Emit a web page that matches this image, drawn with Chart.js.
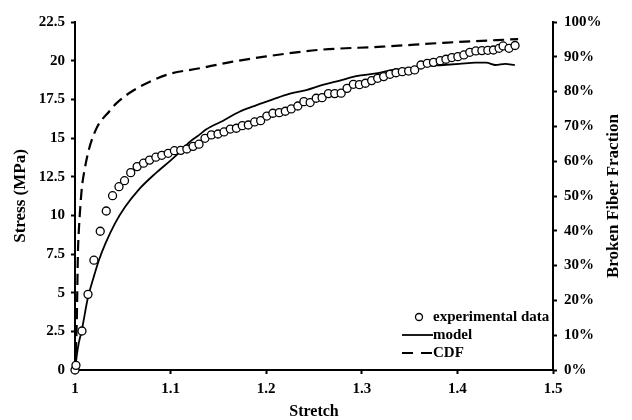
<!DOCTYPE html>
<html>
<head>
<meta charset="utf-8">
<script src="https://cdn.jsdelivr.net/npm/chart.js@4.4.1/dist/chart.umd.min.js"></script>
<style>
  body { margin: 0; background: #fff; }
  #wrap { width: 632px; height: 420px; }
</style>
</head>
<body>
<div id="wrap"><canvas id="stressChart" width="632" height="420"></canvas></div>
<script>
// Experimental data (circles)
const expStretch = [1.0, 1.001, 1.0073, 1.0136, 1.0198, 1.0264, 1.0327, 1.0393, 1.046, 1.0518,
  1.0583, 1.065, 1.0717, 1.078, 1.0846, 1.0908, 1.0975, 1.104, 1.1106, 1.117,
  1.1235, 1.1297, 1.136, 1.1427, 1.1496, 1.1559, 1.1625, 1.1688, 1.175, 1.1813,
  1.1879, 1.1942, 1.2007, 1.207, 1.2137, 1.22, 1.2262, 1.2331, 1.2394, 1.246,
  1.2523, 1.2585, 1.2651, 1.2717, 1.2784, 1.2846, 1.2912, 1.2975, 1.3038, 1.3103,
  1.3166, 1.3229, 1.3295, 1.3358, 1.3424, 1.349, 1.3553, 1.3619, 1.3685, 1.375,
  1.382, 1.388, 1.3942, 1.4005, 1.4068, 1.413, 1.4193, 1.4256, 1.4318, 1.4377,
  1.4436, 1.4478, 1.454, 1.4603];
const expStress = [0.0, 0.3, 2.52, 4.89, 7.1, 8.97, 10.28, 11.27, 11.85, 12.24,
  12.76, 13.15, 13.37, 13.57, 13.76, 13.88, 14.01, 14.18, 14.2, 14.29,
  14.46, 14.6, 14.98, 15.2, 15.26, 15.39, 15.58, 15.63, 15.8, 15.84,
  16.04, 16.12, 16.42, 16.6, 16.64, 16.73, 16.88, 17.07, 17.35, 17.29,
  17.57, 17.61, 17.87, 17.87, 17.9, 18.21, 18.47, 18.45, 18.54, 18.71,
  18.86, 18.97, 19.12, 19.22, 19.29, 19.33, 19.4, 19.72, 19.83, 19.89,
  20.0, 20.09, 20.2, 20.26, 20.37, 20.54, 20.63, 20.65, 20.67, 20.69,
  20.8, 20.95, 20.8, 20.98];

// Model curve (solid line)
const modelStretch = [1.0, 1.002, 1.004, 1.007, 1.0136, 1.0195, 1.025, 1.032, 1.042, 1.0525,
  1.0665, 1.084, 1.101, 1.113, 1.12, 1.13, 1.1374, 1.155, 1.172, 1.19,
  1.207, 1.224, 1.242, 1.259, 1.277, 1.294, 1.315, 1.332, 1.35, 1.367,
  1.385, 1.402, 1.419, 1.43, 1.44, 1.45, 1.46];
const modelStress = [0, 1.0, 1.75, 2.55, 4.7, 6.0, 7.1, 8.2, 9.5, 10.55,
  11.65, 12.7, 13.6, 14.3, 14.75, 15.2, 15.56, 16.12, 16.7, 17.13,
  17.5, 17.85, 18.1, 18.43, 18.71, 19.0, 19.18, 19.4, 19.5, 19.66,
  19.72, 19.79, 19.87, 19.87, 19.72, 19.79, 19.72];

// Broken fiber fraction CDF (dashed line, right axis, %)
const cdfStretch = [1.0, 1.001, 1.002, 1.003, 1.004, 1.0056, 1.0073, 1.01, 1.0142, 1.0226,
  1.0365, 1.0435, 1.061, 1.0957, 1.1305, 1.165, 1.2, 1.2557, 1.321, 1.39, 1.4635];
const cdfFraction = [0, 5.7, 16, 33, 40, 47, 52.7, 57.5, 63, 69.5,
  74.5, 76.7, 80.3, 84.8, 86.7, 88.6, 90.1, 92.0, 92.9, 94.1, 95.1];

const stretchTicks = [1, 1.1, 1.2, 1.3, 1.4, 1.5];
const stressTicks = [0, 2.5, 5, 7.5, 10, 12.5, 15, 17.5, 20, 22.5];
const fractionTicks = [0, 10, 20, 30, 40, 50, 60, 70, 80, 90, 100];

const seriesLabels = ['experimental data', 'model', 'CDF'];

const serif = '"Liberation Serif", "Times New Roman", serif';
Chart.defaults.font.family = serif;
Chart.defaults.font.weight = 'bold';
Chart.defaults.color = '#000';

function pairs(xs, ys) {
  return xs.map((x, i) => ({ x: x, y: ys[i] }));
}
function fmt(v) {
  return String(+v.toFixed(1));
}

// right axis title (reads bottom to top) and the legend box inside the plot
const extras = {
  id: 'extras',
  afterDraw(chart) {
    const ctx = chart.ctx;
    const area = chart.chartArea;
    const ds = chart.data.datasets;
    ctx.save();
    ctx.fillStyle = '#000';
    ctx.strokeStyle = '#000';

    ctx.save();
    ctx.font = 'bold 17px ' + serif;
    ctx.textAlign = 'center';
    ctx.textBaseline = 'middle';
    ctx.translate(chart.width - 18, (area.top + area.bottom) / 2);
    ctx.rotate(-Math.PI / 2);
    ctx.fillText('Broken Fiber Fraction', 0, 0);
    ctx.restore();

    const tx = area.right - 120;
    const rows = [area.bottom - 53, area.bottom - 35, area.bottom - 17];
    ctx.font = 'bold 15px ' + serif;
    ctx.textAlign = 'left';
    ctx.textBaseline = 'middle';

    // circle marker
    ctx.beginPath();
    ctx.arc(tx - 14, rows[0], 3.5, 0, Math.PI * 2);
    ctx.fillStyle = '#fff';
    ctx.fill();
    ctx.lineWidth = ds[0].pointBorderWidth;
    ctx.stroke();
    ctx.fillStyle = '#000';
    ctx.fillText(ds[0].label, tx, rows[0]);

    // solid line
    ctx.beginPath();
    ctx.lineWidth = ds[1].borderWidth;
    ctx.moveTo(tx - 31, rows[1]);
    ctx.lineTo(tx, rows[1]);
    ctx.stroke();
    ctx.fillText(ds[1].label, tx, rows[1]);

    // dashed line
    ctx.beginPath();
    ctx.lineWidth = ds[2].borderWidth;
    ctx.setLineDash([11, 8]);
    ctx.moveTo(tx - 31, rows[2]);
    ctx.lineTo(tx, rows[2]);
    ctx.stroke();
    ctx.setLineDash([]);
    ctx.fillText(ds[2].label, tx, rows[2]);

    ctx.restore();
  }
};

const axisBorder = { display: true, color: '#000', width: 2 };
const axisGrid = { drawOnChartArea: false, drawTicks: true, tickLength: 4, tickColor: '#000', tickWidth: 2 };

const stressCtx = document.getElementById('stressChart').getContext('2d');
new Chart(stressCtx, {
  type: 'scatter',
  data: {
    datasets: [
      {
        label: seriesLabels[0],
        data: pairs(expStretch, expStress),
        yAxisID: 'y',
        pointStyle: 'circle',
        pointRadius: 4,
        pointBackgroundColor: '#fff',
        pointBorderColor: '#000',
        pointBorderWidth: 1.3,
        showLine: false,
        clip: false
      },
      {
        label: seriesLabels[1],
        type: 'line',
        data: pairs(modelStretch, modelStress),
        yAxisID: 'y',
        borderColor: '#000',
        borderWidth: 1.8,
        pointRadius: 0,
        cubicInterpolationMode: 'monotone',
        fill: false
      },
      {
        label: seriesLabels[2],
        type: 'line',
        data: pairs(cdfStretch, cdfFraction),
        yAxisID: 'y2',
        borderColor: '#000',
        borderWidth: 2.2,
        borderDash: [11, 6],
        pointRadius: 0,
        cubicInterpolationMode: 'monotone',
        fill: false
      }
    ]
  },
  options: {
    responsive: false,
    animation: false,
    layout: { padding: { top: 22 } },
    plugins: {
      legend: { display: false },
      tooltip: { enabled: false }
    },
    scales: {
      x: {
        type: 'linear',
        min: 1,
        max: 1.5,
        afterBuildTicks: s => { s.ticks = stretchTicks.map(v => ({ value: v })); },
        afterFit: s => { s.height = 50; },
        border: axisBorder,
        grid: axisGrid,
        ticks: { font: { size: 15, weight: 'bold' }, padding: 6, maxRotation: 0, autoSkip: false, callback: fmt },
        title: { display: true, text: 'Stretch', font: { size: 16, weight: 'bold', lineHeight: 1 }, padding: 0 }
      },
      y: {
        position: 'left',
        min: 0,
        max: 22.5,
        afterBuildTicks: s => { s.ticks = stressTicks.map(v => ({ value: v })); },
        afterFit: s => { s.width = 75; },
        border: axisBorder,
        grid: axisGrid,
        ticks: { font: { size: 15, weight: 'bold' }, padding: 6, autoSkip: false, callback: fmt },
        title: { display: true, text: 'Stress (MPa)', font: { size: 17, weight: 'bold', lineHeight: 1 }, padding: { top: 12.5, bottom: 0 } }
      },
      y2: {
        position: 'right',
        min: 0,
        max: 100,
        afterBuildTicks: s => { s.ticks = fractionTicks.map(v => ({ value: v })); },
        afterFit: s => { s.width = 79; },
        border: axisBorder,
        grid: axisGrid,
        ticks: { font: { size: 15, weight: 'bold' }, padding: 7, autoSkip: false, callback: v => v + '%' },
        title: { display: false }
      }
    }
  },
  plugins: [extras]
});
</script>
</body>
</html>
